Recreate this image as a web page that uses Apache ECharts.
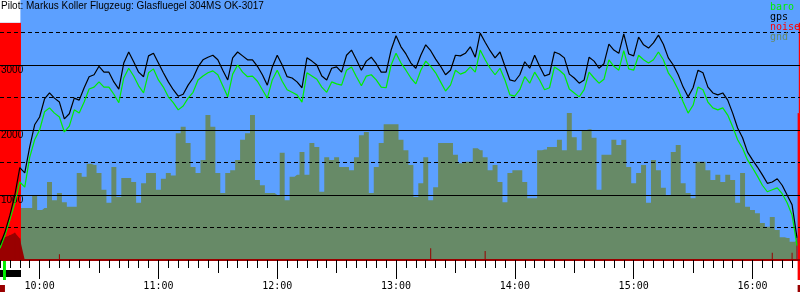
<!DOCTYPE html>
<html>
<head>
<meta charset="utf-8">
<script src="https://cdn.jsdelivr.net/npm/echarts@6.0.0/dist/echarts.min.js"></script>
<style>
  html, body { margin: 0; padding: 0; background: #fff; }
  #chart { width: 800px; height: 300px; }
</style>
</head>
<body>
<div id="chart"></div>
<script>
  const title = 'Pilot: Markus Koller Flugzeug: Glasfluegel 304MS OK-3017'
  const legendNames = ['baro', 'gps', 'noise', 'gnd']

  // samples every 2.5 min, starting 09:40 (minutes since midnight)
  const startMin = 580
  const stepMin = 2.5
  const axisMin = 580
  const axisMax = 984

  const gps = [
    230, 430, 690, 1000, 1420, 1340, 1740, 2080, 2200, 2480,
    2570, 2490, 2430, 2170, 2250, 2490, 2460, 2650, 2820, 2850,
    2980, 2890, 2890, 2740, 2630, 3030, 3200, 3050, 2890, 2820,
    3140, 3180, 3030, 2880, 2740, 2620, 2520, 2550, 2690, 2800,
    2970, 3080, 3120, 3150, 3080, 2920, 2770, 3110, 3200, 3140,
    3080, 3080, 2980, 2850, 2690, 2970, 3150, 3000, 2820, 2800,
    2740, 2650, 3110, 3060, 3000, 2830, 2770, 2950, 2970, 2890,
    3150, 3230, 3080, 2920, 3060, 3120, 3020, 2890, 2890, 3230,
    3450, 3280, 3170, 3030, 2950, 3150, 3310, 3220, 3090, 2980,
    2850, 2920, 3150, 3140, 3180, 3280, 3120, 3490, 3350, 3220,
    3110, 3200, 2980, 2770, 2750, 2850, 3050, 2950, 3150, 2980,
    2830, 2860, 3200, 3170, 3110, 2860, 2800, 2720, 2770, 3120,
    3060, 2950, 3020, 3320, 3230, 3180, 3480, 3170, 3140, 3430,
    3310, 3260, 3340, 3460, 3320, 3110, 3000, 2850, 2660, 2510,
    2650, 2920, 2880, 2660, 2570, 2540, 2570, 2460, 2260, 2030,
    1880, 1660, 1540, 1430, 1310, 1180, 1200, 1250, 1150, 1000,
    850, 340
  ]

  const baro = [
    180, 380, 620, 880, 1200, 1120, 1580, 1850, 2000, 2280,
    2340, 2260, 2200, 1970, 2060, 2310, 2260, 2430, 2630, 2660,
    2740, 2660, 2660, 2550, 2420, 2800, 2950, 2830, 2680, 2570,
    2880, 2940, 2770, 2660, 2510, 2420, 2310, 2370, 2490, 2580,
    2770, 2830, 2880, 2910, 2850, 2680, 2510, 2860, 3000, 2890,
    2820, 2830, 2750, 2620, 2490, 2770, 2920, 2750, 2620, 2580,
    2540, 2430, 2880, 2830, 2780, 2660, 2580, 2740, 2710, 2690,
    2920, 2970, 2820, 2680, 2830, 2850, 2770, 2660, 2650, 3000,
    3180, 3030, 2920, 2800, 2710, 2920, 3060, 2980, 2880, 2740,
    2600, 2690, 2920, 2860, 2890, 2970, 2890, 3230, 3080, 2950,
    2850, 2950, 2770, 2540, 2520, 2620, 2820, 2720, 2890, 2770,
    2620, 2650, 2970, 2920, 2850, 2630, 2570, 2510, 2620, 2890,
    2800, 2720, 2780, 3080, 2980, 2920, 3220, 2940, 2920, 3150,
    3080, 3030, 3080, 3200, 3080, 2880, 2770, 2620, 2430, 2260,
    2380, 2660, 2620, 2430, 2340, 2310, 2340, 2230, 2050, 1850,
    1720, 1540, 1420, 1290, 1150, 1050, 1080, 1110, 1020, 880,
    690, 220
  ]

  const gnd = [
    null, null, null, null, 800, 800, 800, 1000, 770, 800,
    1200, 920, 1030, 890, 820, 820, 1340, 1280, 1480, 1460,
    1340, 1080, 880, 1430, 970, 1260, 1260, 1200, 880, 1180,
    1340, 1340, 1080, 1250, 1340, 1300, 1950, 2050, 1800, 1430,
    1340, 1540, 2230, 2050, 1340, 1030, 1340, 1380, 1540, 1850,
    1950, 2230, 1230, 1150, 1030, 1030, 1000, 1650, 920, 1280,
    1310, 1660, 1310, 1800, 1740, 1050, 1580, 1540, 1580, 1430,
    1430, 1380, 1580, 1920, 1970, 1030, 1430, 1800, 2090, 2090,
    2090, 1850, 1690, 1460, 970, 1180, 1580, 920, 1120, 1800,
    1800, 1800, 1620, 1490, 1510, 1510, 1720, 1690, 1580, 1380,
    1460, 1200, 890, 1340, 1380, 1380, 1200, 950, 950, 1690,
    1700, 1740, 1740, 1850, 1690, 2260, 1890, 1690, 2000, 2010,
    1880, 1080, 1620, 1620, 1850, 1770, 1850, 1430, 1180, 1340,
    1460, 880, 1540, 1380, 1110, 1000, 1660, 1770, 1180, 1030,
    950, 1510, 1510, 1380, 1230, 1310, 1200, 1310, 1230, 880,
    1340, 820, 770, 720, 570, 510, 660, 460, 350, 340,
    280, 300
  ]

  const noise = [
    300, 350, 380, 420, 330, 0, 0, 0, 0, 0,
    0, 0, 90, 0, 0, 0, 0, 0, 0, 0,
    0, 0, 0, 0, 0, 0, 0, 0, 0, 0,
    0, 0, 0, 0, 0, 0, 0, 0, 0, 0,
    0, 0, 0, 0, 0, 0, 0, 0, 0, 0,
    0, 0, 0, 0, 0, 0, 0, 0, 0, 0,
    0, 0, 0, 0, 0, 0, 0, 0, 0, 0,
    0, 0, 0, 0, 0, 0, 0, 0, 0, 0,
    0, 0, 0, 0, 0, 0, 0, 180, 0, 0,
    0, 0, 0, 0, 0, 0, 0, 0, 140, 0,
    0, 0, 0, 0, 0, 0, 0, 0, 0, 0,
    0, 0, 0, 0, 0, 0, 0, 0, 0, 0,
    0, 0, 0, 0, 0, 0, 0, 0, 0, 0,
    0, 0, 0, 0, 0, 0, 0, 0, 0, 0,
    0, 0, 0, 0, 0, 0, 0, 0, 0, 0,
    0, 0, 0, 0, 0, 0, 110, 0, 0, 0,
    110, 340
  ]

  // engine / tow phases (minutes), noise level band top
  const towPhase = [580, 590.6]
  const landingPhase = [982.8, 984]
  const noiseBandTop = 3650
  const landingNoiseMid = 2260

  const hourTicks = [600, 660, 720, 780, 840, 900, 960]
  const hourLabels = ['10:00', '11:00', '12:00', '13:00', '14:00', '15:00', '16:00']
  const halfHourTicks = [630, 690, 750, 810, 870, 930]
  const yLabelValues = [1000, 2000, 3000]

  const colors = {
    sky: '#5ca0ff',
    baro: '#00ee00',
    gps: '#000000',
    noise: '#ff0000',
    noiseDark: '#990000',
    gnd: '#678a67'
  }

  const fiveMinTicks = []
  for (let t = axisMin; t <= axisMax; t += 5) fiveMinTicks.push(t)

  const toPairs = arr => arr.map((v, i) => [startMin + i * stepMin, v])

  const chart = echarts.init(document.getElementById('chart'), null, { renderer: 'canvas' })

  const plotRect = { left: 0, right: 0, top: 0, height: 260, outerBoundsMode: 'none', containLabel: false }
  const hiddenY = idx => ({ gridIndex: idx, type: 'value', show: false, min: 0, max: 4000 })

  chart.setOption({
    animation: false,
    title: {
      text: title,
      left: 0,
      top: 0,
      padding: [1, 1],
      textStyle: { fontFamily: 'Liberation Sans', fontSize: 10, fontWeight: 'normal', color: '#000' }
    },
    legend: {
      orient: 'vertical',
      left: 764,
      top: 2,
      padding: 0,
      itemGap: 0,
      itemWidth: 1,
      itemHeight: 10,
      icon: 'rect',
      itemStyle: { opacity: 0 },
      selectedMode: false,
      textStyle: { fontFamily: 'DejaVu Sans Mono', fontSize: 10, lineHeight: 10 },
      data: [
        { name: 'baro', itemStyle: { opacity: 0 }, textStyle: { color: colors.baro } },
        { name: 'gps', itemStyle: { opacity: 0 }, textStyle: { color: colors.gps } },
        { name: 'noise', itemStyle: { opacity: 0 }, textStyle: { color: colors.noise } },
        { name: 'gnd', itemStyle: { opacity: 0 }, textStyle: { color: colors.gnd } }
      ]
    },
    grid: [
      Object.assign({ show: true, backgroundColor: colors.sky, borderWidth: 0 }, plotRect),
      Object.assign({}, plotRect),
      Object.assign({}, plotRect),
      { left: 0, right: 0, top: 260, height: 40, outerBoundsMode: 'none', containLabel: false }
    ],
    xAxis: [
      {
        gridIndex: 0, type: 'value', min: axisMin, max: axisMax, position: 'bottom', z: 4,
        axisLine: { show: true, lineStyle: { color: colors.noiseDark, width: 2 } },
        axisTick: { show: true, length: 8, customValues: fiveMinTicks, lineStyle: { color: '#000', width: 1 } },
        axisLabel: { show: false },
        splitLine: { show: false }
      },
      {
        gridIndex: 1, type: 'value', min: axisMin, max: axisMax, position: 'bottom', z: 4,
        axisLine: { show: false },
        axisTick: { show: true, length: 13, customValues: halfHourTicks, lineStyle: { color: '#000', width: 1 } },
        axisLabel: { show: false },
        splitLine: { show: false }
      },
      {
        gridIndex: 2, type: 'value', min: axisMin, max: axisMax, position: 'bottom', z: 4,
        axisLine: { show: false },
        axisTick: { show: true, length: 19, customValues: hourTicks, lineStyle: { color: '#000', width: 1 } },
        axisLabel: {
          show: true,
          customValues: hourTicks,
          formatter: v => hourLabels[hourTicks.indexOf(v)],
          margin: 21,
          fontFamily: 'DejaVu Sans Mono',
          fontSize: 10,
          color: '#000'
        },
        splitLine: { show: false }
      },
      { gridIndex: 3, type: 'value', min: axisMin, max: axisMax, show: false }
    ],
    yAxis: [
      {
        gridIndex: 0, type: 'value', min: 0, max: 4000, interval: 1000, z: 4,
        axisLine: { show: false },
        axisTick: { show: false },
        axisLabel: {
          inside: true,
          customValues: yLabelValues,
          formatter: v => String(v),
          margin: 1,
          verticalAlign: 'top',
          fontFamily: 'Liberation Sans',
          fontSize: 10,
          color: '#000'
        },
        splitLine: { show: true, showMinLine: false, showMaxLine: false, lineStyle: { color: '#000', width: 1 } }
      },
      {
        gridIndex: 0, type: 'value', min: 0, max: 4000, interval: 500, z: 4,
        axisLine: { show: false },
        axisTick: { show: false },
        axisLabel: { show: false },
        splitLine: { show: true, showMinLine: false, showMaxLine: false, lineStyle: { color: '#000', width: 1, type: [4, 3] } }
      },
      hiddenY(1),
      hiddenY(2),
      { gridIndex: 3, type: 'value', min: 0, max: 40, inverse: true, show: false }
    ],
    series: [
      {
        name: 'gnd',
        type: 'line',
        xAxisIndex: 0, yAxisIndex: 0,
        step: 'middle',
        symbol: 'none',
        z: 2,
        color: colors.gnd,
        lineStyle: { width: 0 },
        areaStyle: { color: colors.gnd, opacity: 1 },
        data: toPairs(gnd)
      },
      {
        // engine noise spikes
        name: 'noise',
        type: 'bar',
        xAxisIndex: 0, yAxisIndex: 0,
        barWidth: 1,
        z: 3,
        color: colors.noise,
        itemStyle: { color: colors.noiseDark },
        data: toPairs(noise)
      },
      {
        // noise level during tow, plus the tow / landing bands
        name: 'noise',
        type: 'line',
        xAxisIndex: 0, yAxisIndex: 0,
        symbol: 'none',
        z: 3,
        color: colors.noise,
        lineStyle: { width: 0 },
        areaStyle: { color: colors.noiseDark, opacity: 1 },
        data: toPairs(noise.slice(0, 6)),
        markArea: {
          silent: true,
          z: 3,
          label: { show: false },
          data: [
            [{ xAxis: towPhase[0], yAxis: 0, itemStyle: { color: colors.noise, opacity: 1 } }, { xAxis: towPhase[1], yAxis: noiseBandTop }],
            [{ xAxis: towPhase[0], yAxis: noiseBandTop, itemStyle: { color: '#ffffff', opacity: 1 } }, { xAxis: towPhase[1] - 0.3, yAxis: 4000 }],
            [{ xAxis: landingPhase[0], yAxis: 0, itemStyle: { color: colors.noise, opacity: 1 } }, { xAxis: landingPhase[1], yAxis: landingNoiseMid }],
            [{ xAxis: landingPhase[0] + 0.6, yAxis: landingNoiseMid, itemStyle: { color: colors.noise, opacity: 1 } }, { xAxis: landingPhase[1], yAxis: noiseBandTop }]
          ]
        }
      },
      {
        name: 'baro',
        type: 'line',
        xAxisIndex: 0, yAxisIndex: 0,
        symbol: 'none',
        z: 5,
        color: colors.baro,
        lineStyle: { color: colors.baro, width: 1.2 },
        data: toPairs(baro)
      },
      {
        name: 'gps',
        type: 'line',
        xAxisIndex: 0, yAxisIndex: 0,
        symbol: 'none',
        z: 6,
        color: colors.gps,
        lineStyle: { color: colors.gps, width: 1.2 },
        data: toPairs(gps)
      },
      {
        name: 'phases',
        type: 'line',
        xAxisIndex: 3, yAxisIndex: 4,
        data: [],
        markArea: {
          silent: true,
          z: 3,
          label: { show: false },
          data: [
            [{ xAxis: towPhase[0], yAxis: 10, itemStyle: { color: '#000', opacity: 1 } }, { xAxis: towPhase[1], yAxis: 17 }],
            [{ xAxis: towPhase[0] + 1.5, yAxis: 1, itemStyle: { color: colors.baro, opacity: 1 } }, { xAxis: towPhase[0] + 3, yAxis: 20 }],
            [{ xAxis: towPhase[0], yAxis: 25, itemStyle: { color: colors.noiseDark, opacity: 1 } }, { xAxis: towPhase[0] + 2.5, yAxis: 32 }],
            [{ xAxis: landingPhase[0], yAxis: 0, itemStyle: { color: colors.noise, opacity: 1 } }, { xAxis: landingPhase[1], yAxis: 20 }],
            [{ xAxis: landingPhase[0], yAxis: 25, itemStyle: { color: colors.noiseDark, opacity: 1 } }, { xAxis: landingPhase[1], yAxis: 32 }]
          ]
        }
      }
    ]
  })
</script>
</body>
</html>
